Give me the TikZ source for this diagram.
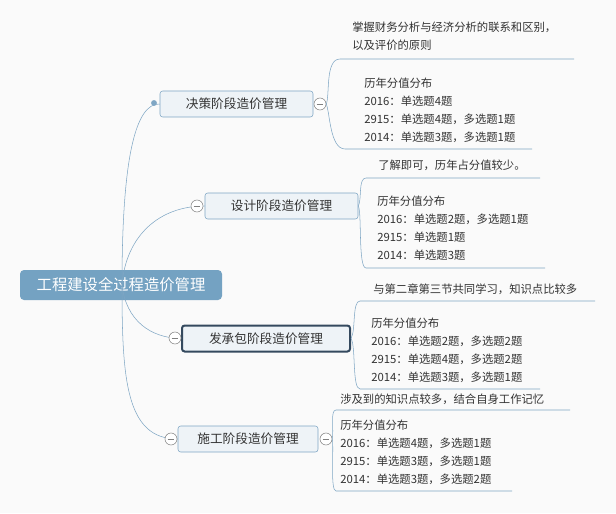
\documentclass[tikz,border=0pt]{standalone}
\usepackage{fontspec}
\setmainfont{Noto Sans CJK SC}
\definecolor{linec}{HTML}{7FA6C4}
\definecolor{rootc}{HTML}{74A2C2}
\definecolor{boxc}{HTML}{EEF3F7}
\definecolor{darkc}{HTML}{34495E}
\tikzset{
  topic/.style={draw=linec, fill=boxc, rounded corners=2pt, minimum height=26*0.75pt, font=\fontsize{9.5}{11}\selectfont, text=black!80},
  leaf/.style={anchor=west, font=\fontsize{8.5}{13.5}\selectfont, text=black!80, align=left, inner sep=0pt},
  conn/.style={linec, thin},
  fold/.style={circle, draw=gray, fill=white, inner sep=0pt, minimum size=9pt, path picture={\draw[gray] ([xshift=-2.5pt]path picture bounding box.center) -- ([xshift=2.5pt]path picture bounding box.center);}}
}
\begin{document}
\begin{tikzpicture}[x=0.75pt, y=-0.75pt]
\useasboundingbox[fill=black!2] (0,0) rectangle (616,513);
% root
\node[fill=rootc, rounded corners=3pt, text=white, minimum width=202*0.75pt, minimum height=30*0.75pt, font=\fontsize{11.5}{13}\selectfont] (root) at (121,285) {工程建设全过程造价管理};
\coordinate (hub) at (122,285);
% topics
\node[topic, minimum width=153*0.75pt] (t1) at (236.5,104) {决策阶段造价管理};
\node[topic, minimum width=153*0.75pt] (t2) at (281.5,206) {设计阶段造价管理};
\node[topic, draw=darkc, line width=1.5pt, minimum width=168*0.75pt] (t3) at (266,338.5) {发承包阶段造价管理};
\node[topic, minimum width=140*0.75pt] (t4) at (248,439) {施工阶段造价管理};
\draw[conn] (hub) .. controls (122,160) and (135,103) .. (t1.west);
\draw[conn] (hub) .. controls (126,235) and (160,206) .. (t2.west);
\draw[conn] (hub) .. controls (126,320) and (150,338) .. (t3.west);
\draw[conn] (hub) .. controls (122,380) and (126,439) .. (t4.west);
\fill[linec] (154,103) circle (2.2pt);
\node[fold] (f2) at (197,206) {};
\node[fold] (f3) at (175,338) {};
\node[fold] (f4) at (171,439) {};
\node[fold] (f1) at (320,104) {};
\node[fold] (f4r) at (326,439) {};
% leaves of t1
\node[leaf] (l11) at (352,36) {掌握财务分析与经济分析的联系和区别，\\以及评价的原则};
\node[leaf] (l12) at (364,110) {历年分值分布\\2016：单选题4题\\2915：单选题4题，多选题1题\\2014：单选题3题，多选题1题};
\coordinate (u11a) at (340,59); \coordinate (u11b) at (574,59);
\coordinate (u12a) at (345,149); \coordinate (u12b) at (532,149);
\draw[conn] (f1.east) .. controls (330,95) and (325,59) .. (u11a) -- (u11b);
\draw[conn] (f1.east) .. controls (330,113) and (330,149) .. (u12a) -- (u12b);
% leaves of t2
\node[leaf] (l21) at (378,165) {了解即可，历年占分值较少。};
\node[leaf] (l22) at (377,228.5) {历年分值分布\\2016：单选题2题，多选题1题\\2915：单选题1题\\2014：单选题3题};
\coordinate (u21a) at (366,178); \coordinate (u21b) at (540,178);
\coordinate (u22a) at (366,268); \coordinate (u22b) at (545,268);
\draw[conn] (t2.east) .. controls (362,200) and (358,178) .. (u21a) -- (u21b);
\draw[conn] (t2.east) .. controls (362,212) and (358,268) .. (u22a) -- (u22b);
% leaves of t3
\node[leaf] (l31) at (373,289) {与第二章第三节共同学习，知识点比较多};
\node[leaf] (l32) at (371,350) {历年分值分布\\2016：单选题2题，多选题2题\\2915：单选题4题，多选题2题\\2014：单选题3题，多选题1题};
\coordinate (u31a) at (360,301); \coordinate (u31b) at (595,301);
\coordinate (u32a) at (360,389); \coordinate (u32b) at (540,389);
\draw[conn] (t3.east) .. controls (356,330) and (352,301) .. (u31a) -- (u31b);
\draw[conn] (t3.east) .. controls (356,346) and (352,389) .. (u32a) -- (u32b);
% leaves of t4
\node[leaf] (l41) at (340,399) {涉及到的知识点较多，结合自身工作记忆};
\node[leaf] (l42) at (340,452.5) {历年分值分布\\2016：单选题4题，多选题1题\\2915：单选题3题，多选题1题\\2014：单选题3题，多选题2题};
\coordinate (u41a) at (336,410); \coordinate (u41b) at (570,410);
\coordinate (u42a) at (336,491); \coordinate (u42b) at (512,491);
\draw[conn] (f4r.east) .. controls (334,430) and (330,410) .. (u41a) -- (u41b);
\draw[conn] (f4r.east) .. controls (334,448) and (330,491) .. (u42a) -- (u42b);
\end{tikzpicture}
\end{document}
